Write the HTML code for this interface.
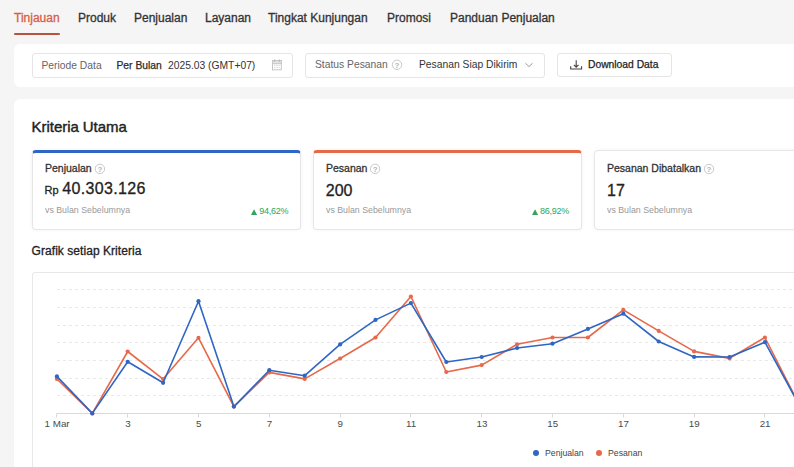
<!DOCTYPE html>
<html lang="id">
<head>
<meta charset="utf-8">
<title>Tinjauan</title>
<style>
*{box-sizing:border-box;margin:0;padding:0}
html,body{width:794px;height:467px;overflow:hidden}
body{background:#f5f5f5;font-family:"Liberation Sans",Arial,sans-serif;color:#333;position:relative}
.abs{position:absolute;white-space:nowrap}
/* nav */
.tab{position:absolute;top:10px;font-size:12px;line-height:16px;color:#333;-webkit-text-stroke:0.3px currentColor}
.tab.active{color:#d95e45}
.uline{position:absolute;left:14px;top:33px;width:46px;height:2px;background:#b8513e;border-radius:1px}
/* filter */
.filter{position:absolute;left:14px;top:44px;width:800px;height:43px;background:#fff;border-radius:6px}
.box{position:absolute;top:53px;height:25px;border:1px solid #e5e5e5;border-radius:3px;background:#fff}
.ft{position:absolute;top:60px;font-size:10.3px;line-height:12px;white-space:nowrap}
.md{-webkit-text-stroke:0.25px currentColor}
/* main card */
.card{position:absolute;left:14px;top:99px;width:800px;height:400px;background:#fff;border-radius:6px}
.kc{position:absolute;top:150px;width:269px;height:80px;border:1px solid #e6e6e6;border-radius:4px;background:#fff;box-shadow:0 0 4px rgba(0,0,0,0.05)}
.kc.blue{border-top:3px solid #2e66c5}
.kc.orange{border-top:3px solid #e6694a}
.lbl{position:absolute;font-size:10.5px;line-height:12px;color:#333;white-space:nowrap;-webkit-text-stroke:0.3px #333}
.val{position:absolute;font-size:16px;line-height:18px;color:#222;white-space:nowrap;-webkit-text-stroke:0.3px #222}
.sub{position:absolute;font-size:8.8px;line-height:10px;color:#999;white-space:nowrap}
.pct{position:absolute;top:205.5px;font-size:9px;line-height:10px;color:#2ea55b;white-space:nowrap;letter-spacing:-0.25px}
.hq{display:inline-block;vertical-align:-1.9px;margin-left:-0.5px;-webkit-text-stroke:0}
.chartbox{position:absolute;left:32px;top:272px;width:800px;height:220px;border:1px solid #e8e8e8;border-radius:3px;background:#fff}
</style>
</head>
<body>
<!-- NAV -->
<div class="tab active" style="left:14px">Tinjauan</div>
<div class="tab" style="left:78px">Produk</div>
<div class="tab" style="left:134px">Penjualan</div>
<div class="tab" style="left:205px">Layanan</div>
<div class="tab" style="left:268px">Tingkat Kunjungan</div>
<div class="tab" style="left:387px">Promosi</div>
<div class="tab" style="left:450px">Panduan Penjualan</div>
<div class="uline"></div>

<!-- FILTER BAR -->
<div class="filter"></div>
<div class="box" style="left:32px;width:261px"></div>
<div class="ft" style="left:41.5px;color:#666">Periode Data</div>
<div class="ft md" style="left:116.5px;color:#2a2a2a">Per Bulan</div>
<div class="ft" style="left:168px;color:#333">2025.03 (GMT+07)</div>
<svg class="abs" style="left:271px;top:58px" width="12" height="13" viewBox="0 0 12 13">
  <rect x="1.5" y="2.5" width="8.8" height="9.3" fill="none" stroke="#c6c6c6" stroke-width="1"/>
  <rect x="1.5" y="2.5" width="8.8" height="3.2" fill="#e4e4e4" stroke="#c6c6c6" stroke-width="1"/>
  <line x1="3.6" y1="1.4" x2="3.6" y2="4" stroke="#bdbdbd" stroke-width="1.2"/>
  <line x1="8.3" y1="1.4" x2="8.3" y2="4" stroke="#bdbdbd" stroke-width="1.2"/>
  <line x1="3" y1="7.4" x2="9" y2="7.4" stroke="#cfcfcf" stroke-width="0.9" stroke-dasharray="1 0.6"/>
  <line x1="3" y1="9.4" x2="9" y2="9.4" stroke="#cfcfcf" stroke-width="0.9" stroke-dasharray="1 0.6"/>
</svg>

<div class="box" style="left:305px;width:240px"></div>
<div class="ft" style="left:315px;top:59.4px;color:#666">Status Pesanan</div>
<svg class="abs" style="left:391px;top:59px" width="12" height="12" viewBox="0 0 12 12"><circle cx="6" cy="5.8" r="4.7" fill="none" stroke="#c2c2c2" stroke-width="0.9"/><text x="6" y="8.5" text-anchor="middle" font-size="8" font-weight="bold" font-family="Liberation Sans, Arial, sans-serif" fill="#b3b3b3">?</text></svg>
<div class="ft" style="left:419px;top:59.4px;color:#333">Pesanan Siap Dikirim</div>
<svg class="abs" style="left:524px;top:61px" width="10" height="7" viewBox="0 0 10 7">
  <polyline points="1.4,2.2 5,5.6 8.6,2.2" fill="none" stroke="#9a9a9a" stroke-width="1"/>
</svg>

<div class="box" style="left:557px;width:115px;height:24px"></div>
<svg class="abs" style="left:569px;top:59px" width="14" height="12" viewBox="0 0 14 12">
  <path d="M7.2 1.2 V8.2 M4.9 5.9 L7.2 8.2 L9.5 5.9" fill="none" stroke="#444" stroke-width="1.1"/>
  <path d="M1.7 7.3 V10 H12.6 V7.3" fill="none" stroke="#444" stroke-width="1.1"/>
</svg>
<div class="ft md" style="left:588px;top:59.3px;color:#222">Download Data</div>

<!-- MAIN CARD -->
<div class="card"></div>
<div class="abs" style="left:31.6px;top:119px;font-size:15px;line-height:16px;color:#222;-webkit-text-stroke:0.4px #222;letter-spacing:-0.05px">Kriteria Utama</div>

<div class="kc blue" style="left:32px"></div>
<div class="lbl" style="left:45px;top:162px">Penjualan</div>
<svg class="abs" style="left:94px;top:163px" width="12" height="12" viewBox="0 0 12 12"><circle cx="5.9" cy="5.9" r="4.7" fill="none" stroke="#c2c2c2" stroke-width="0.9"/><text x="5.9" y="8.5" text-anchor="middle" font-size="8" font-weight="bold" font-family="Liberation Sans, Arial, sans-serif" fill="#b3b3b3">?</text></svg>
<div class="val" style="left:44.6px;top:179.7px"><span style="font-size:11px">Rp</span><span style="margin-left:3.6px;letter-spacing:0.35px">40.303.126</span></div>
<div class="sub" style="left:45px;top:205px">vs Bulan Sebelumnya</div>
<svg class="abs" style="left:250.8px;top:208.6px" width="7" height="6.2" viewBox="0 0 7 6.2"><polygon points="3.05,0.2 6.1,6 0,6" fill="#2ea55b"/></svg><div class="pct" style="left:259.2px">94,62%</div>

<div class="kc orange" style="left:313px"></div>
<div class="lbl" style="left:326px;top:162px">Pesanan</div>
<svg class="abs" style="left:369px;top:163px" width="12" height="12" viewBox="0 0 12 12"><circle cx="6.1" cy="5.9" r="4.7" fill="none" stroke="#c2c2c2" stroke-width="0.9"/><text x="6.1" y="8.5" text-anchor="middle" font-size="8" font-weight="bold" font-family="Liberation Sans, Arial, sans-serif" fill="#b3b3b3">?</text></svg>
<div class="val" style="left:325.8px;top:181.7px">200</div>
<div class="sub" style="left:326px;top:205px">vs Bulan Sebelumnya</div>
<svg class="abs" style="left:531.6px;top:208.6px" width="7" height="6.2" viewBox="0 0 7 6.2"><polygon points="3.05,0.2 6.1,6 0,6" fill="#2ea55b"/></svg><div class="pct" style="left:540px">86,92%</div>

<div class="kc" style="left:594px"></div>
<div class="lbl" style="left:607px;top:162px">Pesanan Dibatalkan</div>
<svg class="abs" style="left:703px;top:163px" width="12" height="12" viewBox="0 0 12 12"><circle cx="6.0" cy="6.0" r="4.7" fill="none" stroke="#c2c2c2" stroke-width="0.9"/><text x="6.0" y="8.6" text-anchor="middle" font-size="8" font-weight="bold" font-family="Liberation Sans, Arial, sans-serif" fill="#b3b3b3">?</text></svg>
<div class="val" style="left:607px;top:181.8px">17</div>
<div class="sub" style="left:607px;top:205px">vs Bulan Sebelumnya</div>

<div class="abs" style="left:31.6px;top:244px;font-size:12px;line-height:14px;color:#222;-webkit-text-stroke:0.3px #222;letter-spacing:0.05px">Grafik setiap Kriteria</div>

<div class="chartbox"></div>
<svg class="abs" style="left:0;top:0" width="794" height="467" id="chart">
<line x1="57" y1="289.5" x2="794" y2="289.5" stroke="#e9e9e9" stroke-width="1" stroke-dasharray="3 3"/>
<line x1="57" y1="307.5" x2="794" y2="307.5" stroke="#e9e9e9" stroke-width="1" stroke-dasharray="3 3"/>
<line x1="57" y1="325.5" x2="794" y2="325.5" stroke="#e9e9e9" stroke-width="1" stroke-dasharray="3 3"/>
<line x1="57" y1="342.5" x2="794" y2="342.5" stroke="#e9e9e9" stroke-width="1" stroke-dasharray="3 3"/>
<line x1="57" y1="360.5" x2="794" y2="360.5" stroke="#e9e9e9" stroke-width="1" stroke-dasharray="3 3"/>
<line x1="57" y1="378.5" x2="794" y2="378.5" stroke="#e9e9e9" stroke-width="1" stroke-dasharray="3 3"/>
<line x1="57" y1="395.5" x2="794" y2="395.5" stroke="#e9e9e9" stroke-width="1" stroke-dasharray="3 3"/>
<line x1="57" y1="413.5" x2="794" y2="413.5" stroke="#d9d9d9" stroke-width="1"/>
<line x1="56.5" y1="413.5" x2="56.5" y2="417.5" stroke="#d9d9d9" stroke-width="1"/>
<text x="57.1" y="427" text-anchor="middle" font-family="Liberation Sans, Arial, sans-serif" font-size="9.8" fill="#4a4a4a">1 Mar</text>
<line x1="127.5" y1="413.5" x2="127.5" y2="417.5" stroke="#d9d9d9" stroke-width="1"/>
<text x="127.9" y="427" text-anchor="middle" font-family="Liberation Sans, Arial, sans-serif" font-size="9.8" fill="#4a4a4a">3</text>
<line x1="198.5" y1="413.5" x2="198.5" y2="417.5" stroke="#d9d9d9" stroke-width="1"/>
<text x="198.7" y="427" text-anchor="middle" font-family="Liberation Sans, Arial, sans-serif" font-size="9.8" fill="#4a4a4a">5</text>
<line x1="269.5" y1="413.5" x2="269.5" y2="417.5" stroke="#d9d9d9" stroke-width="1"/>
<text x="269.5" y="427" text-anchor="middle" font-family="Liberation Sans, Arial, sans-serif" font-size="9.8" fill="#4a4a4a">7</text>
<line x1="340.5" y1="413.5" x2="340.5" y2="417.5" stroke="#d9d9d9" stroke-width="1"/>
<text x="340.3" y="427" text-anchor="middle" font-family="Liberation Sans, Arial, sans-serif" font-size="9.8" fill="#4a4a4a">9</text>
<line x1="410.5" y1="413.5" x2="410.5" y2="417.5" stroke="#d9d9d9" stroke-width="1"/>
<text x="411.1" y="427" text-anchor="middle" font-family="Liberation Sans, Arial, sans-serif" font-size="9.8" fill="#4a4a4a">11</text>
<line x1="481.5" y1="413.5" x2="481.5" y2="417.5" stroke="#d9d9d9" stroke-width="1"/>
<text x="481.9" y="427" text-anchor="middle" font-family="Liberation Sans, Arial, sans-serif" font-size="9.8" fill="#4a4a4a">13</text>
<line x1="552.5" y1="413.5" x2="552.5" y2="417.5" stroke="#d9d9d9" stroke-width="1"/>
<text x="552.7" y="427" text-anchor="middle" font-family="Liberation Sans, Arial, sans-serif" font-size="9.8" fill="#4a4a4a">15</text>
<line x1="623.5" y1="413.5" x2="623.5" y2="417.5" stroke="#d9d9d9" stroke-width="1"/>
<text x="623.5" y="427" text-anchor="middle" font-family="Liberation Sans, Arial, sans-serif" font-size="9.8" fill="#4a4a4a">17</text>
<line x1="694.5" y1="413.5" x2="694.5" y2="417.5" stroke="#d9d9d9" stroke-width="1"/>
<text x="694.3" y="427" text-anchor="middle" font-family="Liberation Sans, Arial, sans-serif" font-size="9.8" fill="#4a4a4a">19</text>
<line x1="764.5" y1="413.5" x2="764.5" y2="417.5" stroke="#d9d9d9" stroke-width="1"/>
<text x="765.1" y="427" text-anchor="middle" font-family="Liberation Sans, Arial, sans-serif" font-size="9.8" fill="#4a4a4a">21</text>
<polyline points="56.9,379.0 92.3,413.4 127.7,351.5 163.1,379.1 198.5,337.8 233.9,406.6 269.3,372.4 304.7,378.9 340.1,358.5 375.5,337.5 410.9,296.5 446.3,372.0 481.7,365.1 517.1,344.3 552.5,337.5 587.9,337.5 623.3,309.9 658.7,330.9 694.1,351.4 729.5,358.4 764.9,337.5 800.3,407.0" fill="none" stroke="#e6694a" stroke-width="1.6" stroke-linejoin="round"/><circle cx="56.9" cy="379.0" r="2.1" fill="#e6694a"/><circle cx="92.3" cy="413.4" r="2.1" fill="#e6694a"/><circle cx="127.7" cy="351.5" r="2.1" fill="#e6694a"/><circle cx="163.1" cy="379.1" r="2.1" fill="#e6694a"/><circle cx="198.5" cy="337.8" r="2.1" fill="#e6694a"/><circle cx="233.9" cy="406.6" r="2.1" fill="#e6694a"/><circle cx="269.3" cy="372.4" r="2.1" fill="#e6694a"/><circle cx="304.7" cy="378.9" r="2.1" fill="#e6694a"/><circle cx="340.1" cy="358.5" r="2.1" fill="#e6694a"/><circle cx="375.5" cy="337.5" r="2.1" fill="#e6694a"/><circle cx="410.9" cy="296.5" r="2.1" fill="#e6694a"/><circle cx="446.3" cy="372.0" r="2.1" fill="#e6694a"/><circle cx="481.7" cy="365.1" r="2.1" fill="#e6694a"/><circle cx="517.1" cy="344.3" r="2.1" fill="#e6694a"/><circle cx="552.5" cy="337.5" r="2.1" fill="#e6694a"/><circle cx="587.9" cy="337.5" r="2.1" fill="#e6694a"/><circle cx="623.3" cy="309.9" r="2.1" fill="#e6694a"/><circle cx="658.7" cy="330.9" r="2.1" fill="#e6694a"/><circle cx="694.1" cy="351.4" r="2.1" fill="#e6694a"/><circle cx="729.5" cy="358.4" r="2.1" fill="#e6694a"/><circle cx="764.9" cy="337.5" r="2.1" fill="#e6694a"/><circle cx="800.3" cy="407.0" r="2.1" fill="#e6694a"/>
<polyline points="56.9,376.4 92.3,413.4 127.7,361.8 163.1,382.8 198.5,301.2 233.9,406.6 269.3,370.2 304.7,375.7 340.1,344.4 375.5,319.9 410.9,303.1 446.3,362.0 481.7,357.0 517.1,348.0 552.5,343.7 587.9,328.9 623.3,313.7 658.7,341.5 694.1,356.9 729.5,357.0 764.9,342.2 800.3,407.0" fill="none" stroke="#2e66c5" stroke-width="1.6" stroke-linejoin="round"/><circle cx="56.9" cy="376.4" r="2.1" fill="#2e66c5"/><circle cx="92.3" cy="413.4" r="2.1" fill="#2e66c5"/><circle cx="127.7" cy="361.8" r="2.1" fill="#2e66c5"/><circle cx="163.1" cy="382.8" r="2.1" fill="#2e66c5"/><circle cx="198.5" cy="301.2" r="2.1" fill="#2e66c5"/><circle cx="233.9" cy="406.6" r="2.1" fill="#2e66c5"/><circle cx="269.3" cy="370.2" r="2.1" fill="#2e66c5"/><circle cx="304.7" cy="375.7" r="2.1" fill="#2e66c5"/><circle cx="340.1" cy="344.4" r="2.1" fill="#2e66c5"/><circle cx="375.5" cy="319.9" r="2.1" fill="#2e66c5"/><circle cx="410.9" cy="303.1" r="2.1" fill="#2e66c5"/><circle cx="446.3" cy="362.0" r="2.1" fill="#2e66c5"/><circle cx="481.7" cy="357.0" r="2.1" fill="#2e66c5"/><circle cx="517.1" cy="348.0" r="2.1" fill="#2e66c5"/><circle cx="552.5" cy="343.7" r="2.1" fill="#2e66c5"/><circle cx="587.9" cy="328.9" r="2.1" fill="#2e66c5"/><circle cx="623.3" cy="313.7" r="2.1" fill="#2e66c5"/><circle cx="658.7" cy="341.5" r="2.1" fill="#2e66c5"/><circle cx="694.1" cy="356.9" r="2.1" fill="#2e66c5"/><circle cx="729.5" cy="357.0" r="2.1" fill="#2e66c5"/><circle cx="764.9" cy="342.2" r="2.1" fill="#2e66c5"/><circle cx="800.3" cy="407.0" r="2.1" fill="#2e66c5"/>
<circle cx="536" cy="453" r="3" fill="#2e66c5"/>
<text x="545" y="456" font-family="Liberation Sans, Arial, sans-serif" font-size="8.7" fill="#444">Penjualan</text>
<circle cx="599" cy="453" r="3" fill="#e6694a"/>
<text x="608" y="456" font-family="Liberation Sans, Arial, sans-serif" font-size="8.7" fill="#444">Pesanan</text>
</svg>
</body>
</html>
